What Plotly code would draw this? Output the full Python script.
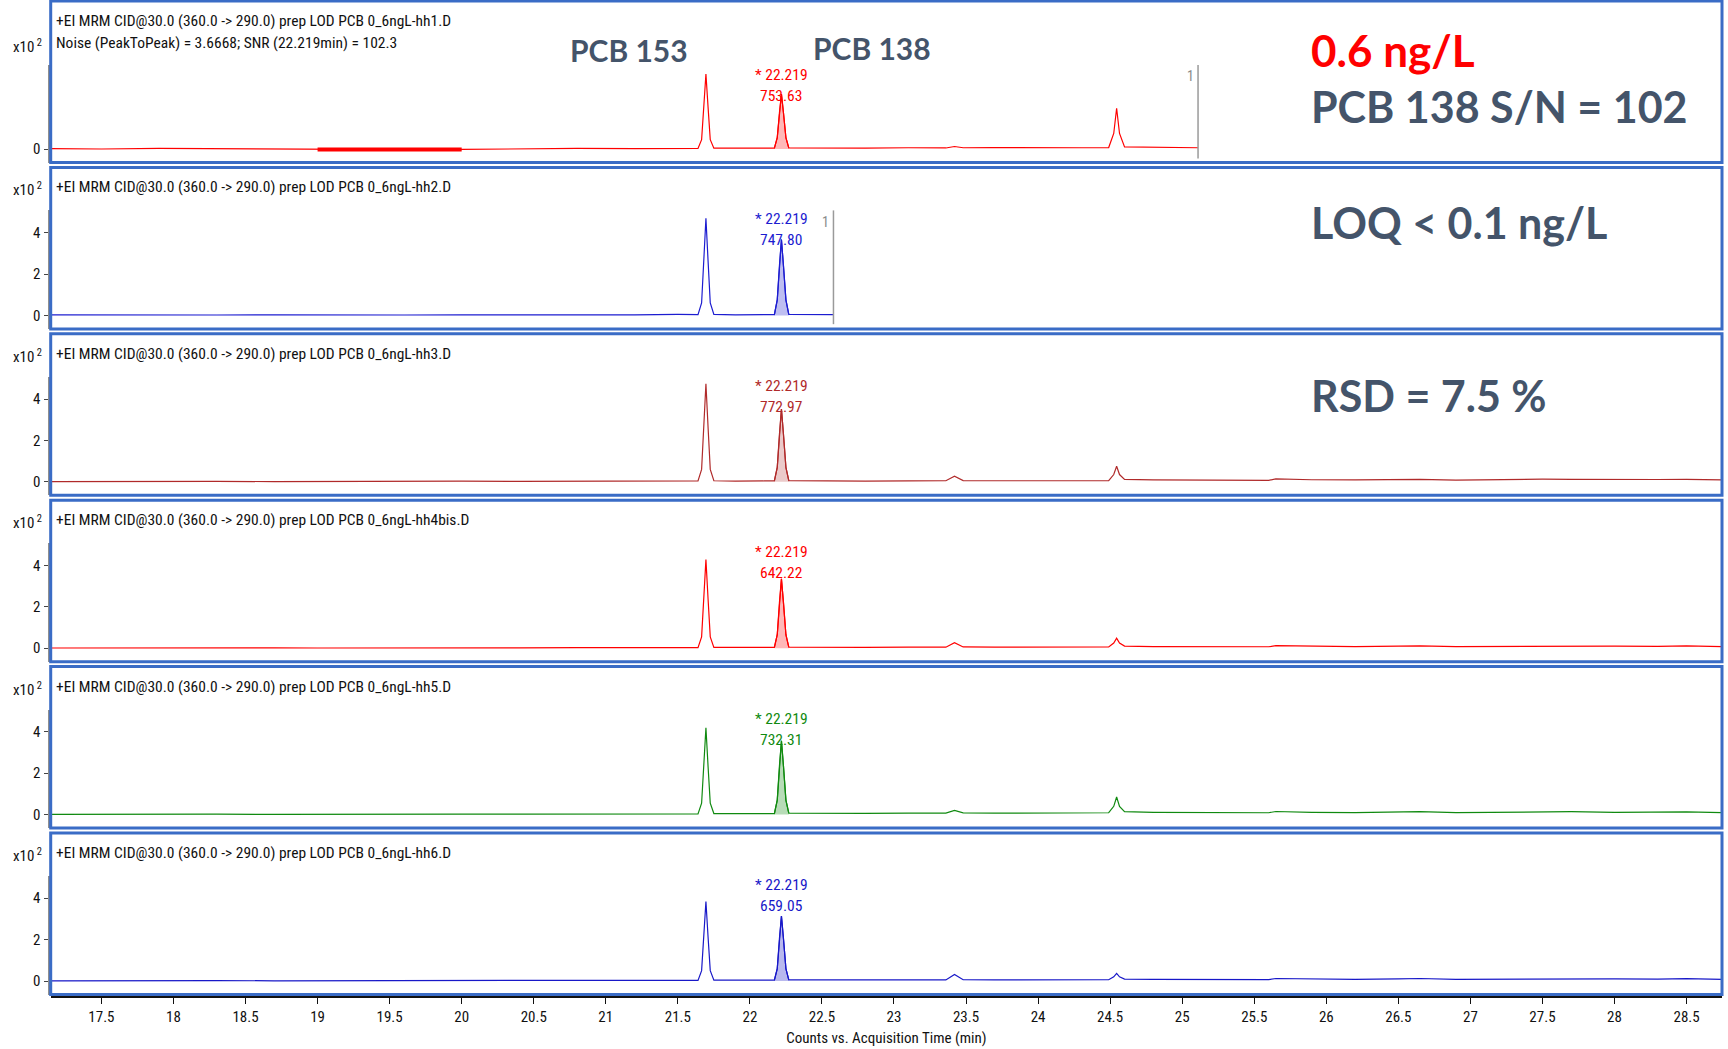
import plotly.graph_objects as go

# ---------------- data (intensities in x10^2 counts) ----------------
TIME = [17.15, 17.5, 17.9, 18.3, 18.7, 19.0, 19.3, 19.6, 20.0, 20.4, 20.8, 21.2, 21.5,
        21.64, 21.665, 21.68, 21.695, 21.71, 21.725, 21.75,
        21.9, 22.1,
        22.17, 22.19, 22.205, 22.219, 22.233, 22.25, 22.27,
        22.4, 22.58, 22.8, 23.1, 23.36, 23.42, 23.48, 23.7, 24.0, 24.3,
        24.49, 24.525, 24.545, 24.565, 24.6, 24.8, 25.11,
        25.4, 25.6, 25.65, 25.9, 26.2, 26.5, 26.65, 26.9, 27.2, 27.5, 27.7, 28.0, 28.3, 28.5, 28.746]

HH1 = [0.02, 0.00, 0.03, 0.01, 0.02, -0.03, -0.02, -0.03, -0.02, 0.02, 0.03, 0.02, 0.03,
       0.03, 0.45, 2.0, 3.62, 2.0, 0.45, 0.04,
       0.03, 0.04,
       0.04, 0.55, 1.75, 2.66, 1.75, 0.55, 0.05,
       0.04, 0.05, 0.04, 0.06, 0.05, 0.12, 0.06, 0.07, 0.05, 0.06,
       0.07, 0.75, 1.97, 0.75, 0.10, 0.08, 0.06,
       None, None, None, None, None, None, None, None, None, None, None, None, None, None, None]

HH2 = [0.03, 0.02, 0.03, 0.02, 0.03, 0.02, 0.03, 0.02, 0.03, 0.02, 0.04, 0.03, 0.05,
       0.04, 0.6, 2.6, 4.69, 2.6, 0.6, 0.05,
       0.03, 0.04,
       0.04, 0.75, 2.4, 3.67, 2.4, 0.75, 0.05,
       0.04, 0.04,
       None, None, None, None, None, None, None, None, None, None, None, None, None, None, None,
       None, None, None, None, None, None, None, None, None, None, None, None, None, None, None]

HH3 = [0.01, 0.02, 0.01, 0.02, 0.01, 0.02, 0.01, 0.02, 0.03, 0.02, 0.03, 0.03, 0.05,
       0.04, 0.6, 2.6, 4.74, 2.6, 0.6, 0.05,
       0.03, 0.04,
       0.04, 0.7, 2.3, 3.52, 2.3, 0.7, 0.06,
       0.05, 0.04, 0.03, 0.04, 0.05, 0.27, 0.06, 0.05, 0.06, 0.05,
       0.06, 0.35, 0.75, 0.35, 0.12, 0.09, 0.07,
       0.08, 0.07, 0.14, 0.10, 0.09, 0.11, 0.12, 0.08, 0.11, 0.13, 0.12, 0.10, 0.11, 0.12, 0.09]

HH4BIS = [0.01, 0.02, 0.01, 0.02, 0.02, 0.01, 0.02, 0.01, 0.02, 0.02, 0.03, 0.02, 0.04,
          0.03, 0.55, 2.35, 4.28, 2.35, 0.55, 0.04,
          0.03, 0.04,
          0.04, 0.65, 2.2, 3.35, 2.2, 0.65, 0.05,
          0.04, 0.05, 0.04, 0.05, 0.05, 0.27, 0.06, 0.05, 0.06, 0.05,
          0.06, 0.25, 0.48, 0.25, 0.10, 0.08, 0.07,
          0.08, 0.07, 0.12, 0.09, 0.08, 0.10, 0.11, 0.08, 0.09, 0.11, 0.12, 0.10, 0.09, 0.11, 0.08]

HH5 = [0.01, 0.02, 0.01, 0.02, 0.01, 0.02, 0.02, 0.01, 0.02, 0.02, 0.03, 0.03, 0.04,
       0.03, 0.55, 2.3, 4.20, 2.3, 0.55, 0.05,
       0.04, 0.05,
       0.05, 0.7, 2.35, 3.57, 2.35, 0.7, 0.07,
       0.06, 0.07, 0.06, 0.07, 0.07, 0.2, 0.08, 0.07, 0.08, 0.08,
       0.09, 0.4, 0.85, 0.4, 0.14, 0.11, 0.10,
       0.10, 0.09, 0.15, 0.11, 0.10, 0.12, 0.14, 0.10, 0.11, 0.13, 0.14, 0.11, 0.12, 0.13, 0.10]

HH6 = [0.01, 0.02, 0.01, 0.02, 0.01, 0.02, 0.01, 0.02, 0.02, 0.03, 0.03, 0.02, 0.04,
       0.03, 0.5, 2.1, 3.84, 2.1, 0.5, 0.04,
       0.03, 0.04,
       0.04, 0.6, 2.05, 3.14, 2.05, 0.6, 0.05,
       0.04, 0.05, 0.05, 0.05, 0.05, 0.32, 0.06, 0.05, 0.06, 0.05,
       0.06, 0.2, 0.37, 0.2, 0.09, 0.08, 0.07,
       0.08, 0.07, 0.12, 0.09, 0.08, 0.10, 0.12, 0.08, 0.09, 0.11, 0.12, 0.10, 0.09, 0.11, 0.08]

SERIES = [HH1, HH2, HH3, HH4BIS, HH5, HH6]
HEADERS = ["+EI MRM CID@30.0 (360.0 -> 290.0) prep LOD PCB 0_6ngL-hh1.D",
           "+EI MRM CID@30.0 (360.0 -> 290.0) prep LOD PCB 0_6ngL-hh2.D",
           "+EI MRM CID@30.0 (360.0 -> 290.0) prep LOD PCB 0_6ngL-hh3.D",
           "+EI MRM CID@30.0 (360.0 -> 290.0) prep LOD PCB 0_6ngL-hh4bis.D",
           "+EI MRM CID@30.0 (360.0 -> 290.0) prep LOD PCB 0_6ngL-hh5.D",
           "+EI MRM CID@30.0 (360.0 -> 290.0) prep LOD PCB 0_6ngL-hh6.D"]
NOISE_TEXT = "Noise (PeakToPeak) = 3.6668; SNR (22.219min) = 102.3"
RT_LABEL = "* 22.219"
AREAS = ["753.63", "747.80", "772.97", "642.22", "732.31", "659.05"]
PEAK_START, PEAK_END = 22.17, 22.27      # integrated PCB 138 peak
NOISE_START, NOISE_END = 19.0, 20.0      # noise region (hh1)
X_TICKS = [17.5, 18, 18.5, 19, 19.5, 20, 20.5, 21, 21.5, 22, 22.5, 23, 23.5, 24, 24.5,
           25, 25.5, 26, 26.5, 27, 27.5, 28, 28.5]
X_TICK_LABELS = ["17.5", "18", "18.5", "19", "19.5", "20", "20.5", "21", "21.5", "22", "22.5",
                 "23", "23.5", "24", "24.5", "25", "25.5", "26", "26.5", "27", "27.5", "28", "28.5"]
Y_TICKS_FIRST = [0]
Y_TICKS = [0, 2, 4]

# ---------------- styles ----------------
LINE_COLORS = ["#ff0000", "#1c1cd0", "#b02a2a", "#ff0000", "#108a10", "#1818c8"]
FILL_COLORS = ["rgba(255,0,0,0.28)", "rgba(40,40,210,0.30)", "rgba(176,42,42,0.25)",
               "rgba(255,0,0,0.28)", "rgba(16,138,16,0.30)", "rgba(24,24,200,0.30)"]
NARROW = "Liberation Sans Narrow, Arial Narrow, Roboto Condensed, Liberation Sans, sans-serif"
BOLD = "Lato, Carlito, Calibri, Open Sans, sans-serif"
SLATE = "#44546a"
BOX_BLUE = "#3a6cc6"

W, H = 1728, 1049
ML, MR, MT, MB = 45, 6, 0, 52
PW, PH = W - ML - MR, H - MT - MB


def fx(px):
    return (px - ML) / PW


def fy(py):
    return 1 - (py - MT) / PH


PX_PER_UNIT = 20.7
BOX_LEFT, BOX_RIGHT = 50.7, 1722

fig = go.Figure()
layout = dict(
    width=W, height=H, margin=dict(l=ML, r=MR, t=MT, b=MB),
    paper_bgcolor="white", plot_bgcolor="white", showlegend=False, hovermode=False,
    xaxis=dict(domain=[fx(BOX_LEFT), 1], range=[17.148, 28.746], anchor="free", position=0,
               showline=True, linecolor="#111", linewidth=2, ticks="outside", ticklen=6,
               tickcolor="#111", tickvals=X_TICKS, ticktext=X_TICK_LABELS,
               tickfont=dict(family=NARROW, size=15, color="#111"),
               showgrid=False, zeroline=False,
               title=dict(text="Counts vs. Acquisition Time (min)", standoff=6,
                          font=dict(family=NARROW, size=15, color="#111"))),
)
shapes, annotations = [], []

for i, ys in enumerate(SERIES):
    box_top = 1 + 166.4 * i
    box_bot = box_top + 161.5
    axis_top = 65 if i == 0 else box_top + 43
    zero_px = box_bot - 13.5
    yname = "y" if i == 0 else f"y{i + 1}"
    ykey = "yaxis" if i == 0 else f"yaxis{i + 1}"
    layout[ykey] = dict(
        domain=[fy(box_bot), fy(axis_top)],
        range=[-(box_bot - zero_px) / PX_PER_UNIT, (zero_px - axis_top) / PX_PER_UNIT],
        anchor="free", position=fx(48.5), showline=True, linecolor="#8f8f8f", linewidth=3,
        ticks="outside", ticklen=4, tickcolor="#444",
        tickvals=Y_TICKS_FIRST if i == 0 else Y_TICKS,
        tickfont=dict(family=NARROW, size=15, color="#111"),
        showgrid=False, zeroline=False, fixedrange=True)

    # chromatogram trace
    fig.add_trace(go.Scatter(x=TIME, y=ys, mode="lines", yaxis=yname, xaxis="x",
                             line=dict(color=LINE_COLORS[i], width=1.2), connectgaps=False))
    # integrated PCB 138 peak
    px_ = [t for t, v in zip(TIME, ys) if PEAK_START <= t <= PEAK_END and v is not None]
    py_ = [v for t, v in zip(TIME, ys) if PEAK_START <= t <= PEAK_END and v is not None]
    fig.add_trace(go.Scatter(x=px_, y=py_, mode="lines", yaxis=yname, xaxis="x", fill="tozeroy",
                             fillcolor=FILL_COLORS[i], line=dict(color=LINE_COLORS[i], width=1.2)))
    if i == 0:
        nx = [t for t, v in zip(TIME, ys) if NOISE_START <= t <= NOISE_END]
        ny = [v for t, v in zip(TIME, ys) if NOISE_START <= t <= NOISE_END]
        fig.add_trace(go.Scatter(x=nx, y=ny, mode="lines", yaxis=yname, xaxis="x",
                                 line=dict(color="#ff0000", width=4)))

    # end-of-data marker for truncated runs
    if ys[-1] is None:
        last_t = max(t for t, v in zip(TIME, ys) if v is not None)
        shapes.append(dict(type="line", xref="x", yref=f"{yname} domain", x0=last_t, x1=last_t,
                           y0=0.04, y1=1.0, line=dict(color="#9a9a9a", width=1.5)))
        annotations.append(dict(text="1", x=last_t, xref="x", y=0.99, yref=f"{yname} domain",
                                xanchor="right", yanchor="top", xshift=-2, showarrow=False,
                                font=dict(family=NARROW, size=14, color="#8a8a8a")))

    # panel box
    shapes.append(dict(type="rect", xref="paper", yref="paper", x0=fx(BOX_LEFT), x1=fx(BOX_RIGHT),
                       y0=fy(box_bot), y1=fy(box_top), line=dict(color=BOX_BLUE, width=3),
                       layer="above"))

    # header text
    annotations.append(dict(text=HEADERS[i], xref="paper", yref="paper", x=fx(54),
                            y=fy(box_top + 20), xanchor="left", yanchor="middle", showarrow=False,
                            font=dict(family=NARROW, size=15.5, color="#111")))
    if i == 0:
        annotations.append(dict(text=NOISE_TEXT, xref="paper", yref="paper", x=fx(54),
                                y=fy(box_top + 42), xanchor="left", yanchor="middle",
                                showarrow=False, font=dict(family=NARROW, size=15.5, color="#111")))
    # x10^2 label
    annotations.append(dict(text="x10<sup> 2</sup>", xref="paper", yref="paper", x=fx(44),
                            y=fy(box_top + (45 if i == 0 else 22)), xanchor="right",
                            yanchor="middle", showarrow=False,
                            font=dict(family=NARROW, size=15, color="#111")))
    # peak labels
    lab_y = box_top + (74 if i == 0 else 52)
    annotations.append(dict(text=RT_LABEL, x=22.219, xref="x", yref="paper", y=fy(lab_y),
                            xanchor="center", yanchor="middle", showarrow=False,
                            font=dict(family=NARROW, size=15.5, color=LINE_COLORS[i])))
    annotations.append(dict(text=AREAS[i], x=22.219, xref="x", yref="paper", y=fy(lab_y + 21),
                            xanchor="center", yanchor="middle", showarrow=False,
                            font=dict(family=NARROW, size=15.5, color=LINE_COLORS[i])))

# big slide annotations
BIG = [("PCB 153", 629, 50, "center", SLATE, 30),
       ("PCB 138", 872, 48, "center", SLATE, 30),
       ("0.6 ng/L", 1309, 50, "left", "#ff0000", 44),
       ("PCB 138 S/N = 102", 1309, 107, "left", SLATE, 43),
       ("LOQ < 0.1 ng/L", 1309, 222, "left", SLATE, 43),
       ("RSD = 7.5 %", 1309, 395, "left", SLATE, 43)]
for txt, x, y, anchor, col, size in BIG:
    annotations.append(dict(text=f"<b>{txt}</b>", xref="paper", yref="paper", x=fx(x), y=fy(y),
                            xanchor=anchor, yanchor="middle", showarrow=False,
                            font=dict(family=BOLD, size=size, color=col)))

layout["shapes"] = shapes
layout["annotations"] = annotations
fig.update_layout(**layout)
fig.write_html("out.html", config={"displayModeBar": False},
               post_script="document.body.style.margin='0';document.body.style.overflow='hidden';")
